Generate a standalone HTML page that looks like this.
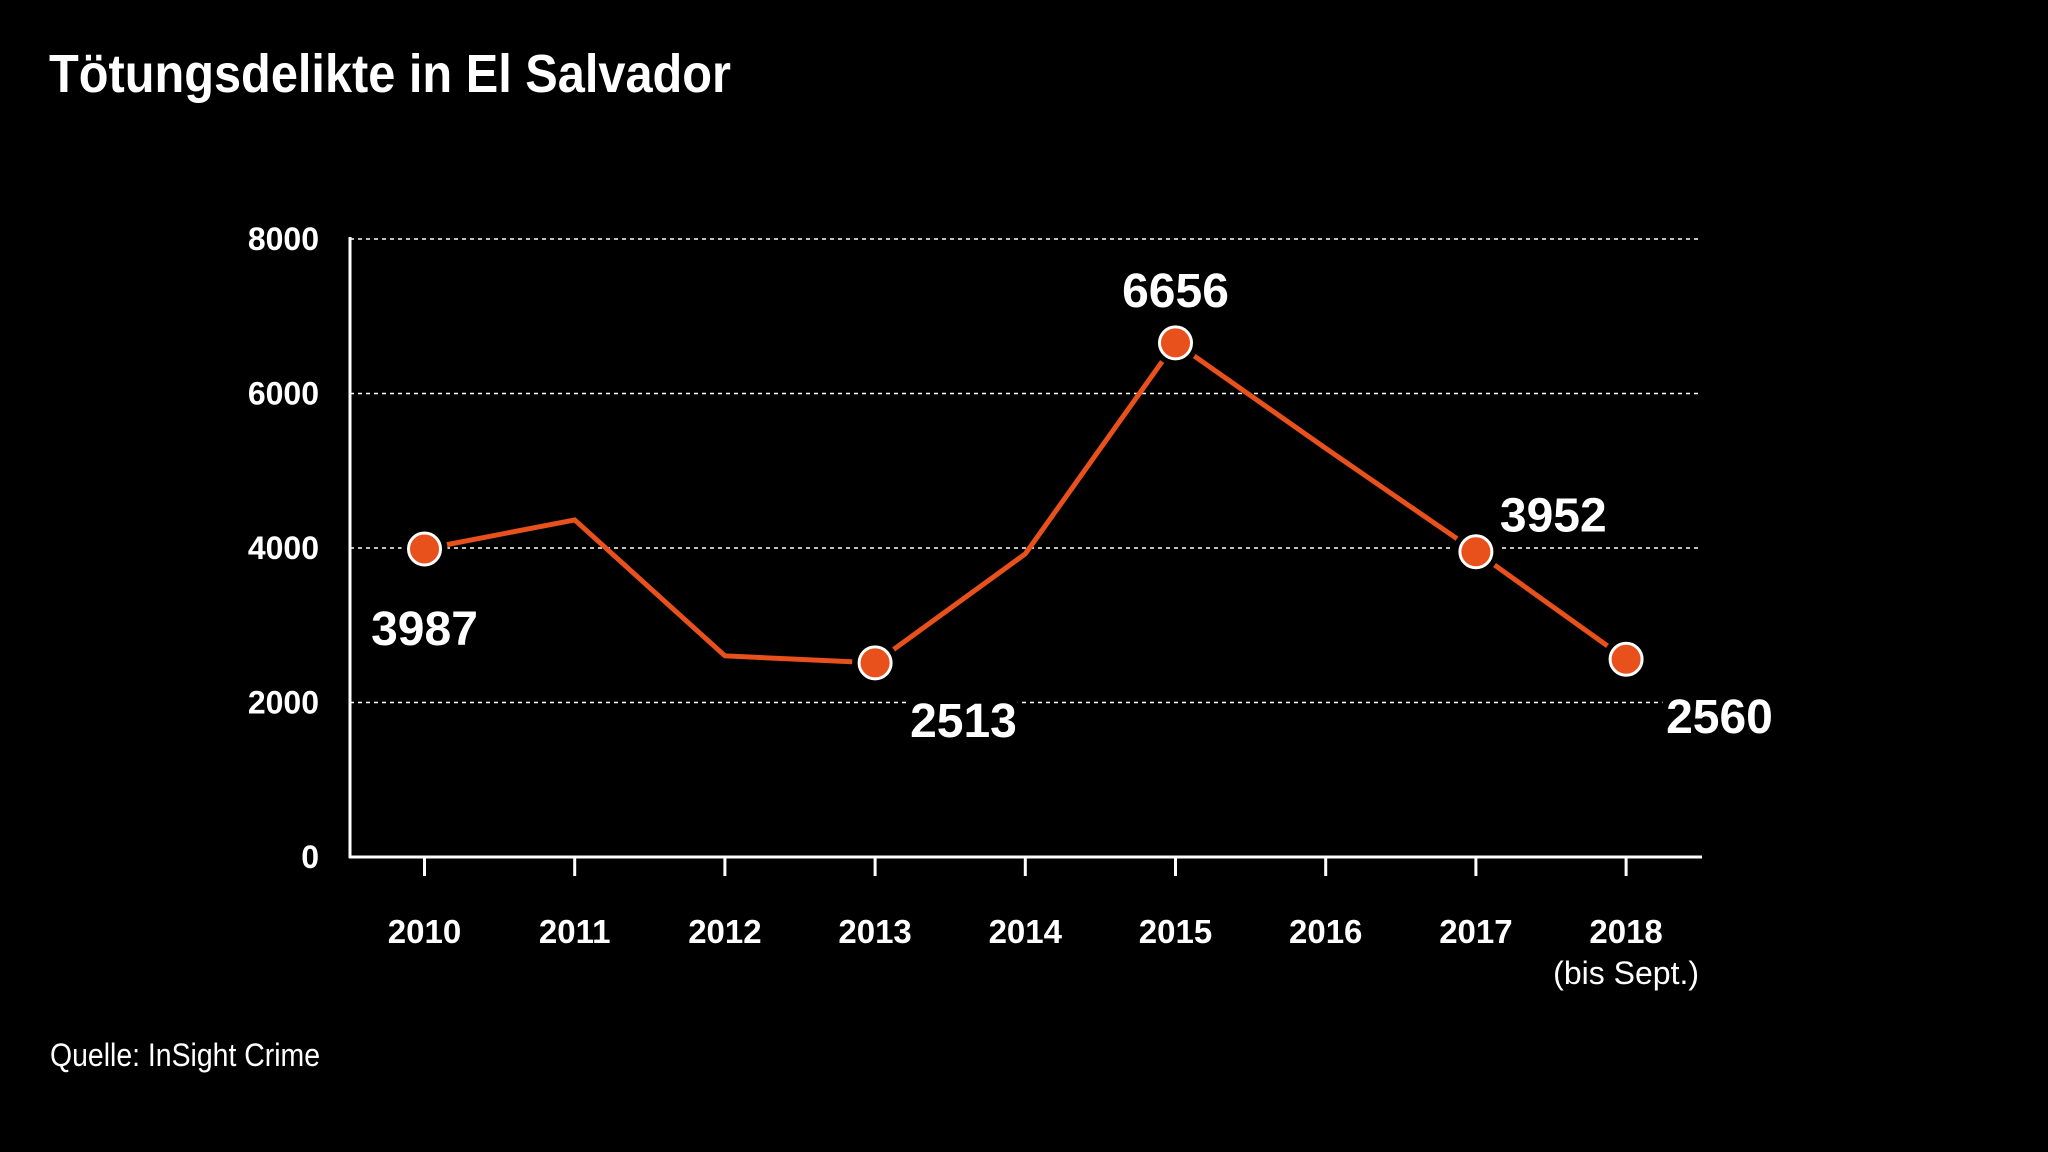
<!DOCTYPE html>
<html><head><meta charset="utf-8">
<style>
html,body{margin:0;padding:0;background:#000;}
svg{display:block;font-family:"Liberation Sans",sans-serif;}
</style></head>
<body>
<svg id="chart" width="2048" height="1152" viewBox="0 0 2048 1152" xmlns="http://www.w3.org/2000/svg">
<rect width="2048" height="1152" fill="#000"/>
<text x="49" y="92" fill="#fff" font-size="54" font-weight="bold" textLength="682" lengthAdjust="spacingAndGlyphs">Tötungsdelikte in El Salvador</text>
<text x="50" y="1066" fill="#fff" font-size="32" textLength="270" lengthAdjust="spacingAndGlyphs">Quelle: InSight Crime</text>
<g id="grid"></g><g id="axes"></g><g id="line"></g><g id="pts"></g><g id="labels"></g>
</svg>
<script>
const years = ["2010","2011","2012","2013","2014","2015","2016","2017","2018"];
const values = [3987,4364,2604,2513,3924,6656,5290,3952,2560];
const yTicks = [0,2000,4000,6000,8000];
const yTickLabels = ["0","2000","4000","6000","8000"];
const labeledIdx = [0,3,5,7,8];
const valueLabels = ["3987","2513","6656","3952","2560"];

const NS="http://www.w3.org/2000/svg";
const X0=424.5, DX=150.2, Y0=857, Y8=239, AXX=350, GRIDEND=1698;
const x=i=>X0+i*DX;
const y=v=>Y0-(v/8000)*(Y0-Y8);
function mk(tag,attrs,parent){const e=document.createElementNS(NS,tag);for(const k in attrs)e.setAttribute(k,attrs[k]);parent.appendChild(e);return e;}
const grid=document.getElementById('grid'),axes=document.getElementById('axes'),line=document.getElementById('line'),pts=document.getElementById('pts'),labels=document.getElementById('labels');

yTicks.forEach((t,i)=>{
  if(t>0){
    const g=mk('line',{x1:AXX,x2:GRIDEND,y1:y(t),y2:y(t),stroke:'#fff','stroke-width':1.6,'stroke-dasharray':'4 4'},grid);
    
    
  }
  const tl=mk('text',{x:319,y:y(t)+11,fill:'#fff','font-size':32,'font-weight':'bold','text-anchor':'end'},axes);
  tl.textContent=yTickLabels[i];
  
  
});
const ya=mk('line',{x1:AXX,x2:AXX,y1:Y8-2,y2:Y0+1,stroke:'#fff','stroke-width':3},axes);


const xa=mk('line',{x1:AXX-1,x2:1702,y1:Y0,y2:Y0,stroke:'#fff','stroke-width':3},axes);


years.forEach((yr,i)=>{
  const tk=mk('line',{x1:x(i),x2:x(i),y1:Y0,y2:Y0+19,stroke:'#fff','stroke-width':3},axes);
  
  
  const t=mk('text',{x:x(i),y:943,fill:'#fff','font-size':33,'font-weight':'bold','text-anchor':'middle'},axes);
  t.textContent=yr;
  
  
});
const sub=mk('text',{x:x(8),y:984,fill:'#fff','font-size':32,'text-anchor':'middle'},axes);
sub.textContent="(bis Sept.)";



const path=mk('polyline',{points:values.map((v,i)=>x(i)+','+y(v)).join(' '),fill:'none',stroke:'#e8501c','stroke-width':5,'stroke-linejoin':'miter'},line);



const offs=[[0,80,'middle'],[35,58,'start'],[0,-52,'middle'],[24,-36,'start'],[40,58,'start']];
labeledIdx.forEach((i,k)=>{
  const c=mk('circle',{cx:x(i),cy:y(values[i]),r:23,fill:'#000'},pts);
  
  
  const p=mk('circle',{cx:x(i),cy:y(values[i]),r:16,fill:'#e8501c',stroke:'#fff','stroke-width':3},pts);
  
  
  const o=offs[k];
  const t=mk('text',{x:x(i)+o[0],y:y(values[i])+o[1]+16,fill:'#fff','font-size':48,'font-weight':'bold','text-anchor':o[2],stroke:'#000','stroke-width':14,'paint-order':'stroke'},labels);
  t.textContent=valueLabels[k];
  
  
});
</script>
</body></html>
